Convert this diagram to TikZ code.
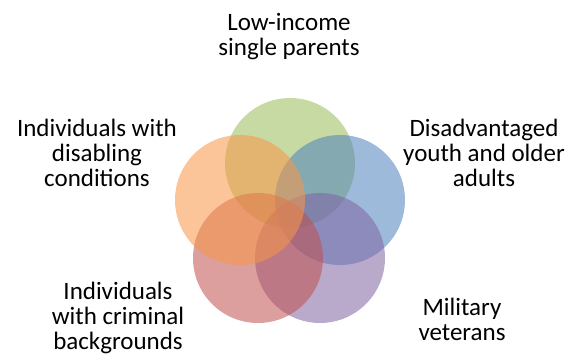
\documentclass[tikz,border=0pt]{standalone}
\usepackage{fontspec}
\setmainfont{Carlito}
\definecolor{vgreen}{HTML}{9BBB59}
\definecolor{vblue}{HTML}{4F81BD}
\definecolor{vpurple}{HTML}{8064A2}
\definecolor{vred}{HTML}{C0504D}
\definecolor{vorange}{HTML}{F79646}
\tikzset{
  venn/.style = {circle, minimum size = 130pt, inner sep = 0pt, fill opacity = 0.55},
  lbl/.style = {align = center, inner sep = 0pt, font = \fontsize{25}{25}\selectfont}
}
\begin{document}
\begin{tikzpicture}[x = 1pt, y = -1pt]
    \useasboundingbox (0,0) rectangle (578,356);

    % the five circles
    \node[venn, fill = vgreen] (green) at (290,163) {};
    \node[venn, fill = vblue] (blue) at (340,200) {};
    \node[venn, fill = vpurple] (purple) at (320,258) {};
    \node[venn, fill = vred] (red) at (258,258) {};
    \node[venn, fill = vorange] (orange) at (240,200) {};

    % labels
    \node[lbl] (single) at (289,37) {Low-income\\single parents};
    \node[lbl] (disabled) at (97,153) {Individuals with\\disabling\\conditions};
    \node[lbl] (youth) at (484,153) {Disadvantaged\\youth and older\\adults};
    \node[lbl] (criminal) at (118,318) {Individuals\\with criminal\\backgrounds};
    \node[lbl] (veterans) at (462,319) {Military\\veterans};

\end{tikzpicture}
\end{document}
